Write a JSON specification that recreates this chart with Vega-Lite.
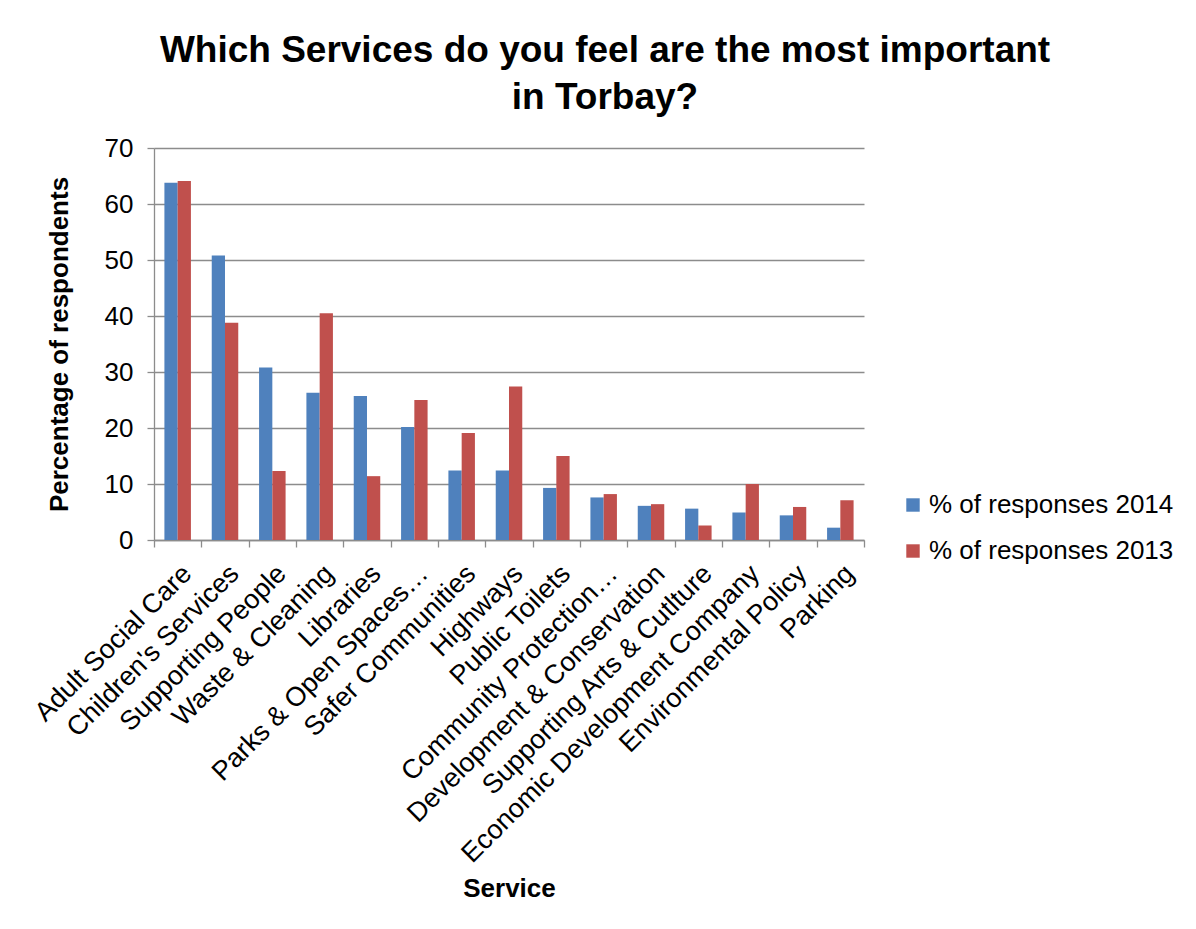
{
  "$schema": "https://vega.github.io/schema/vega-lite/v6.json",
  "autosize": {"type": "none"},
  "padding": {"left": 154, "top": 148, "right": 332, "bottom": 389},
  "width": 710,
  "height": 392,
  "background": "white",
  "title": {
    "text": ["Which Services do you feel are the most important", "in Torbay?"],
    "fontSize": 37,
    "fontWeight": "bold",
    "font": "Liberation Sans",
    "color": "black",
    "lineHeight": 47,
    "anchor": "middle",
    "dx": 96,
    "offset": 18
  },
  "data": {
    "values": [
      {"service": "Adult Social Care", "series": "% of responses 2014", "value": 63.8},
      {"service": "Adult Social Care", "series": "% of responses 2013", "value": 64.1},
      {"service": "Children's Services", "series": "% of responses 2014", "value": 50.8},
      {"service": "Children's Services", "series": "% of responses 2013", "value": 38.8},
      {"service": "Supporting People", "series": "% of responses 2014", "value": 30.8},
      {"service": "Supporting People", "series": "% of responses 2013", "value": 12.3},
      {"service": "Waste & Cleaning", "series": "% of responses 2014", "value": 26.3},
      {"service": "Waste & Cleaning", "series": "% of responses 2013", "value": 40.5},
      {"service": "Libraries", "series": "% of responses 2014", "value": 25.7},
      {"service": "Libraries", "series": "% of responses 2013", "value": 11.4},
      {"service": "Parks & Open Spaces…", "series": "% of responses 2014", "value": 20.2},
      {"service": "Parks & Open Spaces…", "series": "% of responses 2013", "value": 25.0},
      {"service": "Safer Communities", "series": "% of responses 2014", "value": 12.4},
      {"service": "Safer Communities", "series": "% of responses 2013", "value": 19.1},
      {"service": "Highways", "series": "% of responses 2014", "value": 12.4},
      {"service": "Highways", "series": "% of responses 2013", "value": 27.4},
      {"service": "Public Toilets", "series": "% of responses 2014", "value": 9.3},
      {"service": "Public Toilets", "series": "% of responses 2013", "value": 15.0},
      {"service": "Community Protection…", "series": "% of responses 2014", "value": 7.6},
      {"service": "Community Protection…", "series": "% of responses 2013", "value": 8.2},
      {"service": "Development & Conservation", "series": "% of responses 2014", "value": 6.1},
      {"service": "Development & Conservation", "series": "% of responses 2013", "value": 6.4},
      {"service": "Supporting Arts & Cutlture", "series": "% of responses 2014", "value": 5.6},
      {"service": "Supporting Arts & Cutlture", "series": "% of responses 2013", "value": 2.6},
      {"service": "Economic Development Company", "series": "% of responses 2014", "value": 4.9},
      {"service": "Economic Development Company", "series": "% of responses 2013", "value": 10.0},
      {"service": "Environmental Policy", "series": "% of responses 2014", "value": 4.4},
      {"service": "Environmental Policy", "series": "% of responses 2013", "value": 5.9},
      {"service": "Parking", "series": "% of responses 2014", "value": 2.2},
      {"service": "Parking", "series": "% of responses 2013", "value": 7.1}
    ]
  },
  "mark": {"type": "bar"},
  "encoding": {
    "x": {
      "field": "service",
      "type": "nominal",
      "sort": null,
      "title": "Service",
      "scale": {"paddingInner": 0, "paddingOuter": 0},
      "axis": {
        "labelAngle": -45,
        "labelFontSize": 27,
        "labelLimit": 0,
        "labelPadding": 13,
        "tickBand": "extent",
        "tickSize": 7,
        "tickColor": "#8c8c8c",
        "tickWidth": 1.3,
        "domainColor": "#8c8c8c",
        "domainWidth": 1.3,
        "grid": false,
        "titleFontSize": 26,
        "titleFontWeight": "bold",
        "titleY": 356,
        "titleBaseline": "alphabetic"
      }
    },
    "y": {
      "field": "value",
      "type": "quantitative",
      "title": "Percentage of respondents",
      "scale": {"domain": [0, 70], "nice": false},
      "axis": {
        "values": [0, 10, 20, 30, 40, 50, 60, 70],
        "labelFontSize": 26,
        "labelPadding": 14,
        "tickSize": 7,
        "tickColor": "#8c8c8c",
        "tickWidth": 1.3,
        "domainColor": "#8c8c8c",
        "domainWidth": 1.3,
        "gridColor": "#8c8c8c",
        "gridWidth": 1.3,
        "titleFontSize": 26,
        "titleFontWeight": "bold",
        "titleX": -87,
        "titleBaseline": "alphabetic"
      }
    },
    "xOffset": {
      "field": "series",
      "type": "nominal",
      "scale": {
        "domain": ["% of responses 2014", "% of responses 2013"],
        "paddingInner": 0,
        "paddingOuter": 0.785
      }
    },
    "color": {
      "field": "series",
      "type": "nominal",
      "scale": {
        "domain": ["% of responses 2014", "% of responses 2013"],
        "range": ["#4f81bd", "#c0504d"]
      },
      "legend": {
        "title": null,
        "orient": "none",
        "legendX": 746,
        "legendY": 344,
        "padding": 0,
        "symbolType": "square",
        "symbolSize": 180,
        "symbolStrokeWidth": 0,
        "labelFontSize": 26,
        "labelOffset": 3,
        "rowPadding": 20,
        "labelLimit": 0
      }
    }
  },
  "config": {
    "font": "Liberation Sans",
    "view": {"stroke": null},
    "axis": {"labelColor": "black", "titleColor": "black"},
    "legend": {"labelColor": "black"}
  }
}
